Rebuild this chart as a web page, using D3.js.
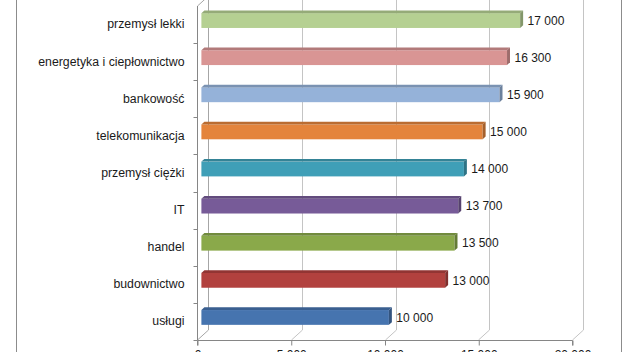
<!DOCTYPE html>
<html>
<head>
<meta charset="utf-8">
<script src="https://cdn.jsdelivr.net/npm/d3@7"></script>
<style>
  html, body { margin: 0; padding: 0; background: #fff; }
  svg { display: block; }
  text { font-family: "Liberation Sans", Arial, sans-serif; fill: #1a1a1a; }
</style>
</head>
<body>
<div id="chart"></div>
<script>
const categories = ['przemysł lekki', 'energetyka i ciepłownictwo', 'bankowość', 'telekomunikacja',
                    'przemysł ciężki', 'IT', 'handel', 'budownictwo', 'usługi'];
const values     = [17000, 16300, 15900, 15000, 14000, 13700, 13500, 13000, 10000];
const barColors  = ['#b5d092', '#d99594', '#95b2d9', '#e4843c', '#3f9fb7',
                    '#775b98', '#8aa94a', '#b2413e', '#4674af'];
const valueTicks = [0, 5000, 10000, 15000, 20000];

const width = 626, height = 352;
const DX = 11, DY = 10;          // full depth of the 3d box
const dFront = 0.4, dBack = 0.67; // bar depth inside the box
const halfBar = 7.4;

const pl = d3.formatLocale({ decimal: ',', thousands: '\u00a0', grouping: [3], currency: ['', ' zł'] });
const fmt = pl.format(',');

const svg = d3.select('#chart').append('svg')
  .attr('width', width)
  .attr('height', height);

const x = d3.scaleLinear().domain([0, 20000]).range([197, 572]);
const y = d3.scaleBand().domain(categories).range([6, 340]).padding(0);

const yTop = y.range()[0], yBot = y.range()[1];

// chart frame
svg.append('line').attr('x1', 16.5).attr('x2', 16.5).attr('y1', 0).attr('y2', height)
  .attr('stroke', '#8c8c8c');
svg.append('line').attr('x1', 621.5).attr('x2', 621.5).attr('y1', 0).attr('y2', height)
  .attr('stroke', '#8c8c8c');

// back wall gridlines + floor lines
const grid = svg.append('g').attr('id', 'grid');
grid.selectAll('path')
  .data(valueTicks)
  .join('path')
  .attr('d', v => {
    const fx = Math.round(x(v)) + 0.5;
    return `M${fx},${yBot} L${fx + DX},${yBot - DY} L${fx + DX},${yTop - DY - 20}`;
  })
  .attr('fill', 'none')
  .attr('stroke', v => v === 0 ? '#a6a6a6' : '#c4c4c4')
  .attr('stroke-width', 1);

// left wall top edge
const x0 = Math.round(x(0)) + 0.5;
svg.append('path')
  .attr('d', `M${x0},${yTop} L${x0 + DX},${yTop - DY}`)
  .attr('stroke', '#a6a6a6').attr('fill', 'none');

// value axis (labels are cut by the bottom edge, as in the source)
const xAxis = svg.append('g')
  .attr('transform', `translate(0.5,${yBot + 0.5})`)
  .call(d3.axisBottom(x).tickValues(valueTicks).tickFormat(fmt).tickSize(5).tickPadding(5));
xAxis.select('.domain').attr('stroke', '#868686').attr('d', `M${x(0)},5V0H${x(20000)}V5`);
xAxis.selectAll('.tick line').attr('stroke', '#868686');
xAxis.selectAll('.tick text').style('font-size', '12px').attr('fill', '#1a1a1a');

// category axis
const yAxis = svg.append('g')
  .attr('transform', `translate(${x0},0)`)
  .call(d3.axisLeft(y).tickSize(0).tickPadding(13));
yAxis.select('.domain').attr('stroke', '#868686').attr('d', `M0,${yTop}V${yBot}`);
yAxis.selectAll('.tick text').style('font-size', '12.3px').attr('fill', '#1a1a1a');

// tick marks between categories
const bounds = categories.map(c => y(c) + y.bandwidth());
svg.append('g').selectAll('line')
  .data(bounds)
  .join('line')
  .attr('x1', x0 - 4).attr('x2', x0)
  .attr('y1', d => Math.round(d) + 0.5).attr('y2', d => Math.round(d) + 0.5)
  .attr('stroke', '#868686');

// bars
const rows = categories.map((c, i) => ({ c, v: values[i], col: barColors[i] }));
const ddx = (dBack - dFront) * DX, ddy = (dBack - dFront) * DY;

const bars = svg.append('g').attr('id', 'bars')
  .selectAll('g')
  .data(rows)
  .join('g');

const geom = d => {
  const yc = y(d.c) + y.bandwidth() / 2 - dFront * DY;
  return {
    xl: x(0) + dFront * DX,
    xr: x(d.v) + dFront * DX,
    yt: yc - halfBar,
    yb: yc + halfBar,
    yc
  };
};

bars.append('rect')
  .attr('x', d => geom(d).xl)
  .attr('y', d => geom(d).yt)
  .attr('width', d => geom(d).xr - geom(d).xl)
  .attr('height', halfBar * 2)
  .attr('fill', d => d.col);

bars.append('path')
  .attr('d', d => {
    const g = geom(d);
    return `M${g.xl},${g.yt}L${g.xr},${g.yt}L${g.xr + ddx},${g.yt - ddy}L${g.xl + ddx},${g.yt - ddy}Z`;
  })
  .attr('fill', d => d3.color(d.col).darker(0.55));

bars.append('path')
  .attr('d', d => {
    const g = geom(d);
    return `M${g.xr},${g.yt}L${g.xr + ddx},${g.yt - ddy}L${g.xr + ddx},${g.yb - ddy}L${g.xr},${g.yb}Z`;
  })
  .attr('fill', d => d3.color(d.col).darker(0.9));

// value labels
bars.append('text')
  .attr('x', d => geom(d).xr + ddx + 4.5)
  .attr('y', d => geom(d).yc)
  .attr('dy', '0.35em')
  .style('font-size', '12px')
  .text(d => fmt(d.v));
</script>
</body>
</html>
